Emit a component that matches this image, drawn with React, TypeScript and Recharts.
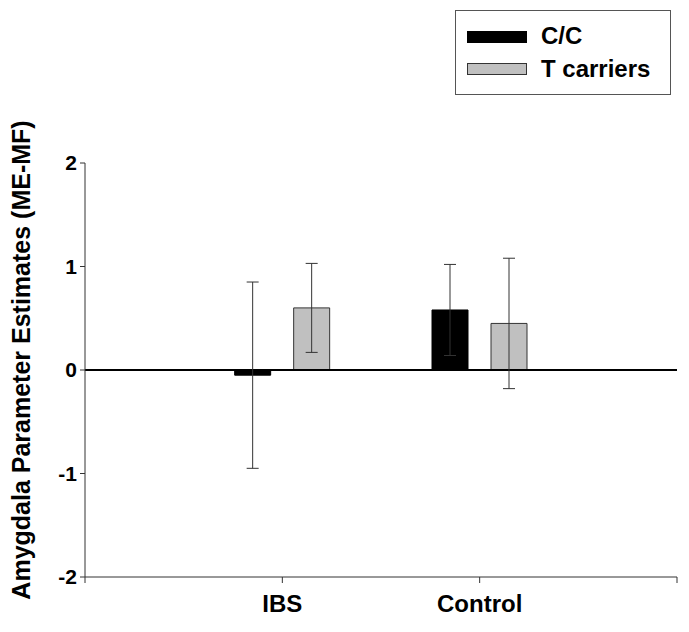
import React from 'react';
import { BarChart, Bar, XAxis, YAxis, ErrorBar, ReferenceLine, Legend } from 'recharts';

const groups = ['IBS', 'Control'];
const groupPos = [1, 2];
const ccValues = [-0.05, 0.58];
const ccErrors = [0.9, 0.44];
const tValues = [0.6, 0.45];
const tErrors = [0.43, 0.63];
const yTicks = [-2, -1, 0, 1, 2];
const xTicks = [0, 1, 2, 3];

const data = groups.map((g, i) => ({
  name: g,
  x: groupPos[i],
  cc: ccValues[i],
  ccErr: ccErrors[i],
  t: tValues[i],
  tErr: tErrors[i],
}));

const FONT = '"Liberation Sans", Arial, sans-serif';

const LegendBox: React.FC = () => (
  <div
    style={{
      width: 216,
      height: 85,
      border: '1px solid #555',
      background: '#fff',
      boxSizing: 'border-box',
      fontFamily: FONT,
      fontWeight: 'bold',
      fontSize: 24,
      color: '#000',
      position: 'relative',
    }}
  >
    <div style={{ position: 'absolute', left: 11, top: 20, width: 60, height: 12, background: '#000' }} />
    <div style={{ position: 'absolute', left: 85, top: 11, lineHeight: '28px' }}>C/C</div>
    <div
      style={{
        position: 'absolute',
        left: 11,
        top: 52,
        width: 60,
        height: 12,
        background: '#c0c0c0',
        border: '1px solid #333',
        boxSizing: 'border-box',
      }}
    />
    <div style={{ position: 'absolute', left: 85, top: 44, lineHeight: '28px' }}>T carriers</div>
  </div>
);

const YLabel: React.FC<any> = () => (
  <text
    x={0}
    y={0}
    transform="translate(30, 360) rotate(-90)"
    textAnchor="middle"
    fontFamily={FONT}
    fontWeight="bold"
    fontSize={25}
    fill="#000"
  >
    Amygdala Parameter Estimates (ME-MF)
  </text>
);

const App: React.FC = () => {
  return (
    <div style={{ position: 'absolute', left: 0, top: 0, background: '#fff' }}>
      <BarChart
        width={689}
        height={632}
        data={data}
        margin={{ top: 163, right: 12, left: 0, bottom: 0 }}
        barSize={36}
        barGap={23}
      >
        <XAxis
          dataKey="x"
          type="number"
          domain={[0, 3]}
          ticks={xTicks}
          tickFormatter={(v: number) => {
            const i = groupPos.indexOf(v);
            return i >= 0 ? groups[i] : '';
          }}
          height={55}
          stroke="#333"
          tickSize={6}
          tickMargin={12}
          tick={{ fill: '#000', fontFamily: FONT, fontWeight: 'bold', fontSize: 24 }}
        />
        <YAxis
          type="number"
          domain={[-2, 2]}
          ticks={yTicks}
          width={85}
          stroke="#333"
          tickSize={5}
          tickMargin={3}
          tick={{ fill: '#000', fontFamily: FONT, fontWeight: 'bold', fontSize: 21 }}
          label={<YLabel />}
        />
        <Legend
          layout="vertical"
          align="center"
          verticalAlign="middle"
          wrapperStyle={{ top: 10, left: 455, width: 216 }}
          content={() => <LegendBox />}
        />
        <ReferenceLine y={0} stroke="#000" strokeWidth={2} />
        <Bar dataKey="cc" name="C/C" fill="#000" stroke="#000" isAnimationActive={false}>
          <ErrorBar dataKey="ccErr" width={6} stroke="#333" strokeWidth={1} isAnimationActive={false} />
        </Bar>
        <Bar dataKey="t" name="T carriers" fill="#c0c0c0" stroke="#333" isAnimationActive={false}>
          <ErrorBar dataKey="tErr" width={6} stroke="#333" strokeWidth={1} isAnimationActive={false} />
        </Bar>
      </BarChart>
    </div>
  );
};

export default App;
